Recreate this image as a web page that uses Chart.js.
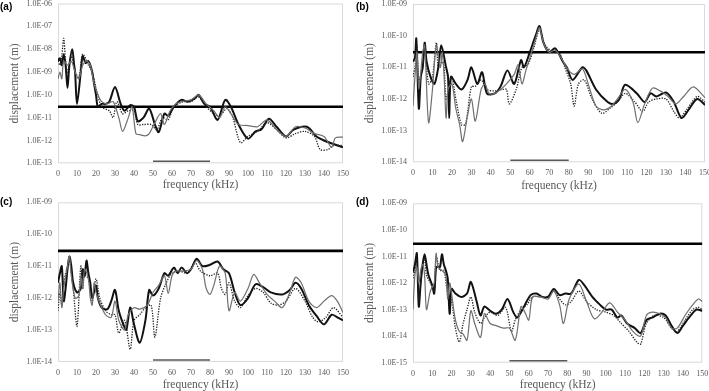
<!DOCTYPE html>
<html>
<head>
<meta charset="utf-8">
<script src="https://cdn.jsdelivr.net/npm/chart.js@4.4.0/dist/chart.umd.min.js"></script>
<style>
  body{margin:0;background:#fff;width:709px;height:391px;overflow:hidden;position:relative}
  .panel{position:absolute}
  .tag{position:absolute;font:bold 10px Arial,"Liberation Sans",sans-serif;line-height:12px;color:#000}
</style>
</head>
<body>
<div class="panel" style="left:0;top:0"><canvas id="chartA" width="355" height="195"></canvas></div>
<div class="panel" style="left:355px;top:0"><canvas id="chartB" width="354" height="195"></canvas></div>
<div class="panel" style="left:0;top:195px"><canvas id="chartC" width="355" height="196"></canvas></div>
<div class="panel" style="left:355px;top:195px"><canvas id="chartD" width="354" height="196"></canvas></div>
<div class="tag" style="left:0;top:1px">(a)</div>
<div class="tag" style="left:356px;top:1px">(b)</div>
<div class="tag" style="left:0;top:196px">(c)</div>
<div class="tag" style="left:356px;top:196px">(d)</div>
<script>
// threshold displacement and the 50-80 kHz band
const threshold = 3e-11;
const bandKHz = [50, 80];
const freqTicks = [0,10,20,30,40,50,60,70,80,90,100,110,120,130,140,150];

const aTicks = [1e-13,1e-12,1e-11,1e-10,1e-9,1e-8,1e-7,1e-6];
const bTicks = [1e-14,1e-13,1e-12,1e-11,1e-10,1e-9];
const cTicks = [1e-14,1e-13,1e-12,1e-11,1e-10,1e-9];
const dTicks = [1e-15,1e-14,1e-13,1e-12,1e-11,1e-10,1e-9];

// [frequency kHz, displacement m]
const aThick = [[0,3e-9],[1,4e-9],[2,2e-9],[3,6e-9],[4,2e-9],[5,2e-10],[6,2e-9],[7.5,1e-8],[8.5,2e-9],[9,1e-9],[10,4e-11],[12,1e-9],[13,5e-9],[14.5,2.5e-9],[16,3e-9],[17,2e-9],[18,1e-9],[19,3e-10],[20,1e-10],[21,3e-11],[23,4e-11],[25,4e-11],[27,5e-11],[30,2.2e-10],[33,4e-11],[35,2e-11],[38,3.5e-11],[40,3e-11],[42,7e-12],[45,1e-11],[48,2.5e-11],[51,5e-12],[53,2.3e-12],[56,1.5e-11],[58,1.2e-11],[61,3e-11],[65,6e-11],[68,5e-11],[72,7e-11],[74,1e-10],[77,4e-11],[80,3e-11],[84,8e-12],[88,6e-11],[91,3e-11],[95,5e-12],[100,1.2e-12],[104,2.5e-12],[107,3e-12],[111,9e-12],[115,4e-12],[120,1.5e-12],[124,3e-12],[131,4e-12],[136,1.5e-12],[140,1e-12],[145,7e-13],[150,5e-13]];
const aThin = [[0,5e-10],[1,1e-9],[2,5e-10],[3,3e-9],[5,2e-9],[7,3e-9],[9,1e-9],[11,5e-10],[13,2e-9],[15,3e-9],[17,2e-9],[19,3e-10],[21,1e-10],[23,5e-11],[26,4e-11],[29,5e-11],[32,1e-11],[34,2.5e-12],[37,1e-11],[39,3e-11],[41,2e-12],[43,1.8e-12],[46,1.6e-12],[48,2e-12],[51,6e-12],[54,1.5e-11],[56,5e-12],[59,2e-11],[62,4e-11],[65,5e-11],[70,6e-11],[74,1e-10],[78,4e-11],[82,2e-11],[85,1e-11],[88,3e-11],[91,1.5e-11],[95,5e-12],[100,4.5e-12],[105,4e-12],[110,8e-12],[115,3e-12],[120,1.5e-12],[125,4e-12],[130,3.5e-12],[135,2e-12],[140,1.5e-12],[144,5e-13],[146,1.3e-12],[150,1.4e-12]];
const aDotted = [[0,3e-9],[1,2e-9],[2,5e-9],[3,3e-8],[4,3e-9],[5,1e-9],[7,5e-9],[9,1e-9],[11,6e-10],[13,6e-9],[16,2e-9],[18,1e-9],[20,2e-10],[23,3e-11],[27,2e-11],[29,1e-11],[31,5e-11],[34,1.5e-11],[37,2e-11],[40,2e-11],[42,5e-12],[45,5e-12],[49,5e-12],[52,3e-12],[55,1e-11],[58,8e-12],[61,3e-11],[66,5e-11],[70,5e-11],[74,8e-11],[78,3e-11],[82,1.5e-11],[85,1.2e-11],[89,2.5e-11],[92,1e-11],[96,8e-13],[100,1.5e-12],[105,2.5e-12],[110,6e-12],[115,3e-12],[120,1.3e-12],[125,2e-12],[130,2.5e-12],[135,1.5e-12],[138,4e-13],[142,4e-13],[145,6e-13],[150,6e-13]];

const bThick = [[0,1.5e-11],[1,2e-11],[1.7,8e-11],[3,5e-13],[4,5e-12],[5,1e-11],[6,6e-11],[7,1.5e-11],[9,5e-12],[11,3e-12],[13,1e-11],[14.5,5e-11],[17,1e-11],[18,5e-12],[18.6,2.5e-13],[19.5,5e-12],[22,3e-12],[25,2e-12],[28,4e-12],[30,1e-11],[33,3e-12],[35.5,7e-12],[38,1.5e-12],[42,1.5e-12],[45,2.5e-12],[48.5,8e-12],[52,3e-12],[55.5,1.7e-11],[57,1e-11],[60,3e-11],[63,1e-10],[65,2e-10],[67,6e-11],[70,3e-11],[73,4e-11],[77,1.5e-11],[79,1e-11],[82,4e-12],[87,1e-11],[89,8e-12],[94,2e-12],[100,8e-13],[103,7e-13],[106,1e-12],[109,2.8e-12],[115,1.5e-12],[119,8e-13],[122,1.5e-12],[125,1.2e-12],[130,1.6e-12],[134,8e-13],[138,2.5e-13],[142,5e-13],[146,1e-12],[150,6.5e-13]];
const bThin = [[0,6e-13],[1,5e-12],[2,3e-11],[3,2e-12],[5,3e-11],[6,5e-11],[8,1.8e-13],[10,2e-12],[12,5e-11],[14,1e-11],[15,3e-11],[16,5e-12],[17,2.5e-13],[18,2e-12],[20,3e-12],[22,5e-13],[24,1.5e-13],[25.5,4.5e-14],[28,3e-13],[30,1e-12],[32,2e-13],[35,2e-12],[37,3e-12],[39,1.5e-12],[42,1.5e-12],[45,2e-12],[48,3e-12],[52,6e-12],[54,1.2e-11],[56,3e-12],[58,8e-12],[61,3e-11],[63,8e-11],[65,1.8e-10],[67,6e-11],[70,3e-11],[73,3.5e-11],[76,2e-11],[80,8e-12],[83,6e-12],[87,9e-12],[90,3e-12],[94,6e-13],[98,4.5e-13],[102,6e-13],[105,1e-12],[109,2e-12],[113,8e-13],[115.5,1.8e-13],[119,7e-13],[123,2.2e-12],[127,1.8e-12],[131,1.2e-12],[135,7e-13],[139,1.2e-12],[144,2.4e-12],[150,1.1e-12]];
const bDotted = [[0,5e-12],[1,1e-11],[2,5e-11],[3,4e-12],[5,1e-11],[6,4e-11],[8,3e-12],[10,5e-12],[12,6e-11],[13,1e-11],[15,1.5e-11],[16,1e-11],[17,1e-12],[19,4e-12],[20,5e-12],[22,1e-12],[25,1.5e-13],[27,1.6e-13],[30,2.5e-12],[32,2.5e-12],[35,4e-12],[38,2e-12],[42,1.8e-12],[46,2e-12],[48,2e-12],[49.5,7e-13],[53,2e-12],[56,1e-11],[59,1.2e-11],[62,4e-11],[65,1.5e-10],[68,5e-11],[72,3e-11],[75,3e-11],[78,1e-11],[81,3e-12],[82.8,6e-13],[85,3e-12],[88,4e-12],[92,1e-12],[97,3.5e-13],[101,5e-13],[105,8e-13],[109,1.5e-12],[114,8e-13],[118,4e-13],[121,8e-13],[125,1e-12],[130,1e-12],[134,4e-13],[137,2.5e-13],[141,5e-13],[146,1.2e-12],[150,8e-13]];

const cThick = [[0,3e-12],[1,6e-12],[2,1e-11],[3,8e-13],[4,2e-12],[5,8e-12],[6,2e-11],[7,1e-11],[8,3e-12],[10,1.5e-12],[12,2e-12],[13,8e-12],[14,5e-12],[15,1.5e-11],[16,6e-12],[17,3e-12],[18,1e-12],[20,2.5e-12],[21,1e-12],[23,5e-13],[26,4.5e-13],[28,8e-13],[30,1.8e-12],[32,4e-13],[35,1.2e-13],[36,1e-13],[38,5e-13],[40,1.5e-13],[43,4e-14],[46,2e-13],[48,1.8e-12],[50,1.2e-12],[53,2e-12],[56,6e-12],[58,5e-12],[61,9e-12],[63,6e-12],[65,9e-12],[68,6e-12],[70,8e-12],[73,1.7e-11],[76,1e-11],[80,1.1e-11],[84,1.4e-11],[87,8e-12],[90,6e-12],[93,1.5e-12],[96,6e-13],[100,1e-12],[104,2.7e-12],[108,2.2e-12],[112,1.5e-12],[118,1.3e-12],[122,1.8e-12],[125,3e-12],[128,2e-12],[132,6e-13],[136,2.8e-13],[140,1.5e-13],[144,3e-13],[147,2.5e-13],[150,2e-13]];
const cThin = [[0,8e-13],[1,3e-12],[2,5e-13],[3,2e-12],[5,1e-11],[6,2e-11],[7,5e-12],[9,1e-12],[11,1.2e-12],[12,5e-12],[13,2e-12],[14,8e-12],[16,4e-12],[17,1e-12],[18,6e-13],[19,3e-12],[20,1.5e-12],[22,7e-13],[25,3e-13],[28,2.5e-13],[30,8e-13],[32,2e-13],[35,1e-13],[37,3e-13],[40,5e-13],[43,4.5e-13],[47,6e-13],[50,1.5e-12],[53,2.5e-12],[56,5e-12],[58,1.4e-12],[60,5e-12],[62,7e-12],[66,7e-12],[70,8e-12],[73,1.5e-11],[76,8e-12],[78,2e-12],[80,1.3e-12],[82,2.5e-12],[85,1e-11],[88,6e-12],[90,4e-13],[93,1.5e-12],[96,8e-13],[100,2e-12],[103,5.5e-12],[106,3e-12],[110,1.3e-12],[114,8e-13],[118,5e-13],[122,1.5e-12],[125,4.5e-12],[128,3e-12],[132,8e-13],[136,5e-13],[140,8e-13],[144,1.2e-12],[147,8e-13],[150,3.5e-13]];
const cDotted = [[0,4e-13],[1,1.5e-12],[2,6e-13],[3,3e-12],[5,1e-11],[6,1.5e-11],[8,2e-12],[10,1.3e-13],[12,1e-11],[13,2e-12],[14,5e-12],[16,4e-12],[18,8e-13],[20,4e-12],[22,1e-12],[25,4e-13],[28,3e-13],[30,3e-13],[32,8e-14],[35,2e-13],[38,2.5e-14],[40,2e-13],[43,3e-13],[46,5e-13],[49,6e-13],[51,6e-14],[54,1e-12],[57,3e-12],[60,6e-12],[64,7e-12],[68,6e-12],[72,1.3e-11],[75,7e-12],[80,5e-12],[84,6e-12],[86,2e-12],[88,1.3e-12],[90,3e-12],[93,8e-13],[96,5e-13],[100,1.2e-12],[104,2e-12],[108,1.5e-12],[112,7e-13],[116,6e-13],[120,8e-13],[125,2e-12],[130,8e-13],[134,2.5e-13],[137,1.8e-13],[141,2.5e-13],[145,5e-13],[150,2.5e-13]];

const dThick = [[0,2.5e-12],[1,5e-12],[2,1.3e-11],[3,1.3e-13],[4,1e-12],[5,5e-12],[6,1.2e-11],[7,5e-12],[8,2e-12],[10,8e-13],[11,4e-13],[12,4e-12],[13,4e-12],[14,4e-12],[15,1.2e-11],[16,5e-12],[17,3e-12],[18,1.5e-12],[19,7e-14],[20,6e-13],[22,4e-13],[25,3e-13],[28,4e-13],[30,1.1e-12],[33,2e-13],[35,6e-14],[37,1.3e-13],[40,9e-14],[43,7e-14],[46,1e-13],[49,2.5e-13],[52,8e-14],[54,5e-14],[56,8e-14],[58,1.5e-13],[61,3.5e-13],[64,4e-13],[67,3e-13],[70,3e-13],[73,6e-13],[76,3.5e-13],[79,4e-13],[82,4e-13],[86,1.3e-12],[89,8e-13],[93,3e-13],[97,1.5e-13],[100,1e-13],[103,1e-13],[106,5e-14],[108,6e-14],[111,3e-14],[115,2e-14],[118,1.3e-14],[121,4e-14],[124,5e-14],[128,7e-14],[131,6e-14],[134,2.5e-14],[137,1.3e-14],[140,2.5e-14],[144,6e-14],[147,1e-13],[150,9e-14]];
const dThin = [[0,1e-13],[1,2e-12],[2,4e-12],[3,1e-12],[4,3e-12],[5,5e-12],[6,2e-12],[7,1e-13],[9,5e-13],[11,1e-12],[12,1.3e-11],[13,4e-12],[15,3e-12],[17,2e-12],[18,2.5e-13],[19,1e-12],[20,4e-13],[22,4e-14],[24,1.5e-14],[26,1.2e-14],[28,7e-15],[30,9e-14],[32,3e-14],[35,9e-15],[37,7e-14],[40,3e-14],[43,2.5e-14],[47,2e-14],[50,2e-14],[53,7e-15],[56,1.3e-13],[58,8e-14],[60,4e-14],[62,3e-13],[66,3e-13],[70,2.5e-13],[73,5e-13],[76,1.5e-13],[78,3e-14],[81,2.5e-13],[86,9e-13],[90,2e-13],[94,4.5e-14],[98,8e-14],[102,1.8e-13],[106,8e-14],[110,4e-14],[114,1.5e-14],[118,1e-14],[121,6e-14],[124,8e-14],[128,7e-14],[131,5e-14],[134,2e-14],[137,2e-14],[141,6e-14],[145,1.5e-13],[148,2.5e-13],[150,2e-13]];
const dDotted = [[0,1.5e-12],[1,3e-12],[2,8e-12],[3,2e-13],[4,1e-12],[5,4e-12],[6,8e-12],[7,2e-12],[9,1e-12],[11,5e-13],[12,1e-11],[14,3e-12],[16,3e-12],[18,4e-13],[20,2e-13],[22,2e-14],[24,6e-15],[26,3e-14],[28,1e-13],[30,3e-13],[32,8e-14],[35,3e-14],[37,5e-14],[40,8e-14],[44,6e-14],[48,1.2e-13],[51,1.5e-14],[53,4e-14],[56,1e-13],[59,1.5e-13],[62,3e-13],[66,3e-13],[70,3e-13],[73,5e-13],[76,2.5e-13],[79,1.5e-13],[82,2e-13],[86,5e-13],[90,2e-13],[95,1e-13],[100,8e-14],[104,6e-14],[108,3e-14],[112,1.5e-14],[116,6e-15],[118,5e-15],[121,3e-14],[125,6e-14],[130,5e-14],[134,2e-14],[137,1.5e-14],[141,4e-14],[145,1e-13],[148,1.2e-13],[150,1e-13]];

const serif = 'Liberation Serif';
const grey = '#595959';

function sci(v) {
  const e = Math.round(Math.log10(v));
  return '1.0E' + (e < 0 ? '-' : '+') + String(Math.abs(e)).padStart(2, '0');
}

function pts(arr) {
  return arr.map(p => ({x: p[0], y: p[1]}));
}

// light frame round the plot and the short band line at the bottom
const framePlugin = {
  id: 'frame',
  beforeDatasetsDraw(chart) {
    const {ctx, chartArea: {left, top, width, height}} = chart;
    ctx.save();
    ctx.strokeStyle = '#d9d9d9';
    ctx.lineWidth = 1;
    ctx.strokeRect(left + 0.5, top + 0.5, width - 1, height - 1);
    ctx.restore();
  },
  afterDatasetsDraw(chart) {
    const {ctx, chartArea: {bottom}} = chart;
    const xs = chart.scales.x;
    ctx.save();
    ctx.strokeStyle = grey;
    ctx.lineWidth = 1.5;
    ctx.beginPath();
    ctx.moveTo(xs.getPixelForValue(bandKHz[0]), bottom - 2);
    ctx.lineTo(xs.getPixelForValue(bandKHz[1]), bottom - 2);
    ctx.stroke();
    ctx.restore();
  }
};

function makePanel(id, yTicks, thick, thin, dotted, box) {
  new Chart(document.getElementById(id), {
    type: 'line',
    data: {
      datasets: [
        {data: pts(thin), borderColor: '#6f6f6f', borderWidth: 1.2},
        {data: pts(dotted), borderColor: '#222', borderWidth: 1.3, borderDash: [1.3, 1.3]},
        {data: pts(thick), borderColor: '#111', borderWidth: 2},
        {data: [{x: 0, y: threshold}, {x: 150, y: threshold}], borderColor: '#000', borderWidth: 2.6, tension: 0}
      ]
    },
    options: {
      responsive: false,
      animation: false,
      layout: {padding: {left: 0, right: box.r, top: box.t, bottom: 0}},
      plugins: {legend: {display: false}, tooltip: {enabled: false}},
      elements: {point: {radius: 0}, line: {tension: 0.3, fill: false}},
      scales: {
        x: {
          type: 'linear', min: 0, max: 150,
          grid: {display: false, drawTicks: false}, border: {display: false},
          afterBuildTicks: s => { s.ticks = freqTicks.map(v => ({value: v})); },
          ticks: {padding: 6, color: grey, font: {family: serif, size: 8}, maxRotation: 0, autoSkip: false},
          title: {display: true, text: 'frequency (kHz)', color: grey,
                  font: {family: serif, size: 11.5, lineHeight: 1}, padding: {top: 0, bottom: box.xp}},
          afterFit: s => { s.height = box.xh; s.paddingLeft = 0; s.paddingRight = 0; }
        },
        y: {
          type: 'logarithmic', min: yTicks[0], max: yTicks[yTicks.length - 1],
          grid: {display: false, drawTicks: false}, border: {display: false},
          afterBuildTicks: s => { s.ticks = yTicks.map(v => ({value: v})); },
          ticks: {callback: v => sci(v), padding: 6, color: grey, font: {family: serif, size: 8}, autoSkip: false},
          title: {display: true, text: 'displacement (m)', color: grey,
                  font: {family: serif, size: 11.5, lineHeight: 1}, padding: {top: 9, bottom: 0}},
          afterFit: s => { s.width = 58; s.paddingTop = 0; s.paddingBottom = 0; }
        }
      }
    },
    plugins: [framePlugin]
  });
}

makePanel('chartA', aTicks, aThick, aThin, aDotted, {t: 3.5, r: 12, xh: 31.7, xp: 4});
makePanel('chartB', bTicks, bThick, bThin, bDotted, {t: 4, r: 4, xh: 32.7, xp: 3});
makePanel('chartC', cTicks, cThick, cThin, cDotted, {t: 7.3, r: 12, xh: 29.1, xp: 0});
makePanel('chartD', dTicks, dThick, dThin, dDotted, {t: 8.3, r: 6.7, xh: 28.3, xp: 0});
</script>
</body>
</html>
